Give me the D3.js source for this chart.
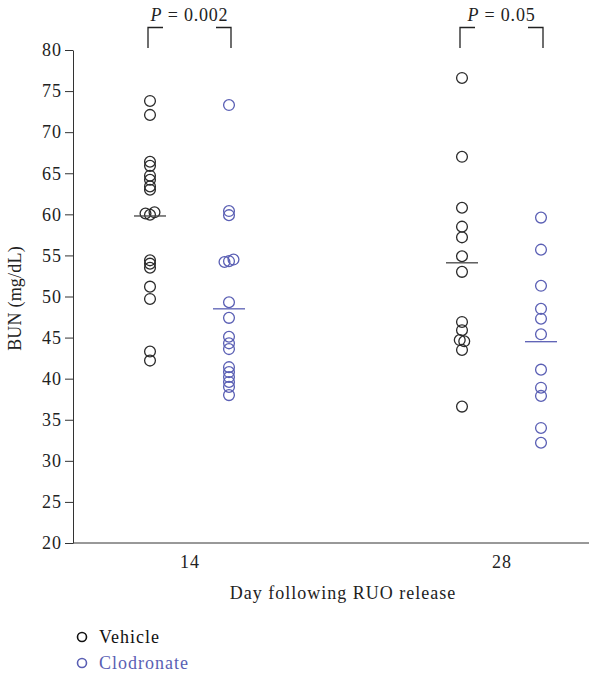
<!DOCTYPE html>
<html>
<head>
<meta charset="utf-8">
<script src="https://cdn.jsdelivr.net/npm/d3@7"></script>
<style>
  body { margin: 0; background: #fff; }
  text { font-family: "Liberation Serif", "DejaVu Serif", serif; }
</style>
</head>
<body>
<svg id="chart" width="592" height="674"></svg>
<script>
// days and groups
const days = ["14", "28"];
const groups = ["Vehicle", "Clodronate"];
const colors = { Vehicle: "#2b2b2b", Clodronate: "#5a5fb4" };

// BUN values (mg/dL)
const vehicle14 = [73.8, 72.1, 66.4, 65.9, 64.7, 64.2, 63.4, 63.0, 60.1, 59.95, 60.25,
  54.4, 54.0, 53.5, 51.2, 49.7, 43.3, 42.2];
const clodronate14 = [73.3, 60.4, 59.9, 54.2, 54.3, 54.5, 49.3, 47.4, 45.1, 44.3, 43.6,
  41.4, 40.8, 40.2, 39.6, 39.0, 38.0];
const vehicle28 = [76.6, 67.0, 60.8, 58.5, 57.2, 54.9, 53.0, 46.9, 45.9, 44.7, 44.55,
  43.5, 36.6];
const clodronate28 = [59.6, 55.7, 51.3, 48.5, 47.3, 45.4, 41.1, 38.9, 37.9, 34.0, 32.2];

// horizontal bars (group means as drawn)
const means = [
  { day: "14", group: "Vehicle", value: 59.8 },
  { day: "14", group: "Clodronate", value: 48.5 },
  { day: "28", group: "Vehicle", value: 54.1 },
  { day: "28", group: "Clodronate", value: 44.5 }
];

const pLabels = [
  { day: "14", text: "0.002" },
  { day: "28", text: "0.05" }
];

const yTicks = d3.range(20, 81, 5);

const series = [
  { day: "14", group: "Vehicle", values: vehicle14 },
  { day: "14", group: "Clodronate", values: clodronate14 },
  { day: "28", group: "Vehicle", values: vehicle28 },
  { day: "28", group: "Clodronate", values: clodronate28 }
];

const margin = { top: 50, right: 3, bottom: 131, left: 73 };
const width = 592 - margin.left - margin.right;
const height = 674 - margin.top - margin.bottom;
const font = "Liberation Serif, serif";

const svg = d3.select("#chart");
const g = svg.append("g").attr("transform", `translate(${margin.left},${margin.top})`);

const y = d3.scaleLinear().domain([20, 80]).range([height, 0]);
const x = d3.scalePoint().domain(days).range([116.5, width - 87.5]);
const xg = d3.scalePoint().domain(groups).range([-39.5, 39.5]);

// y axis
const yAxis = g.append("g")
  .call(d3.axisLeft(y).tickValues(yTicks).tickSize(8).tickPadding(3).tickSizeOuter(0));
yAxis.select(".domain").attr("stroke", "#333");
yAxis.selectAll(".tick line").attr("stroke", "#333");
yAxis.selectAll("text").attr("font-size", 18).attr("fill", "#222")
  .attr("font-family", font).attr("letter-spacing", 1);

// x axis
const xAxis = g.append("g")
  .attr("transform", `translate(0,${height})`)
  .call(d3.axisBottom(x).tickSize(0).tickPadding(12));
xAxis.select(".domain").attr("stroke", "#333").attr("d", `M0,0H${width}`);
xAxis.selectAll("text").attr("font-size", 18).attr("fill", "#222")
  .attr("font-family", font).attr("letter-spacing", 1);

// axis titles
g.append("text")
  .attr("transform", `translate(-52,${height / 2 + 2}) rotate(-90)`)
  .attr("text-anchor", "middle")
  .attr("font-size", 18)
  .attr("letter-spacing", 0.2)
  .attr("fill", "#222")
  .text("BUN (mg/dL)");

g.append("text")
  .attr("x", width / 2 + 12)
  .attr("y", height + 56)
  .attr("text-anchor", "middle")
  .attr("font-size", 18)
  .attr("letter-spacing", 1)
  .attr("fill", "#222")
  .text("Day following RUO release");

// spread near-identical values sideways so they stay visible
function spread(values) {
  const dx = values.map(() => 0);
  const used = values.map(() => false);
  values.forEach((v, i) => {
    if (used[i]) return;
    const cluster = values.map((w, j) => j).filter(j => !used[j] && Math.abs(values[j] - v) < 0.35);
    cluster.forEach((j, k) => {
      used[j] = true;
      dx[j] = (k - (cluster.length - 1) / 2) * 4.5;
    });
  });
  return dx;
}

series.forEach(s => {
  const dx = spread(s.values);
  g.append("g").selectAll("circle")
    .data(s.values)
    .enter()
    .append("circle")
    .attr("cx", (d, i) => x(s.day) + xg(s.group) + dx[i])
    .attr("cy", d => y(d))
    .attr("r", 5.4)
    .attr("fill", "none")
    .attr("stroke", colors[s.group])
    .attr("stroke-width", 1.3);
});

// mean bars
g.selectAll(".mean")
  .data(means)
  .enter()
  .append("line")
  .attr("class", "mean")
  .attr("x1", d => x(d.day) + xg(d.group) - 16)
  .attr("x2", d => x(d.day) + xg(d.group) + 16)
  .attr("y1", d => y(d.value))
  .attr("y2", d => y(d.value))
  .attr("stroke", d => d.group === "Vehicle" ? "#444" : colors.Clodronate)
  .attr("stroke-width", 1.3);

// significance brackets
const br = g.selectAll(".bracket")
  .data(pLabels)
  .enter()
  .append("g")
  .attr("class", "bracket");

br.append("path")
  .attr("d", d => {
    const a = x(d.day) + xg("Vehicle") - 2;
    const b = x(d.day) + xg("Clodronate") + 2;
    return `M${a},-2V-22.5H${a + 15}M${b - 15},-22.5H${b}V-2`;
  })
  .attr("fill", "none")
  .attr("stroke", "#222")
  .attr("stroke-width", 1.3);

const pt = br.append("text")
  .attr("x", d => x(d.day))
  .attr("y", -29)
  .attr("text-anchor", "middle")
  .attr("font-size", 18)
  .attr("letter-spacing", 0.8)
  .attr("fill", "#222");
pt.append("tspan").attr("font-style", "italic").text("P");
pt.append("tspan").text(d => ` = ${d.text}`);

// legend
const legend = svg.append("g").attr("transform", "translate(82,637)");
groups.forEach((grp, i) => {
  const row = legend.append("g").attr("transform", `translate(0,${i * 26})`);
  row.append("circle")
    .attr("r", 4.5)
    .attr("fill", "none")
    .attr("stroke", grp === "Vehicle" ? "#111" : colors.Clodronate)
    .attr("stroke-width", 1.6);
  row.append("text")
    .attr("x", 17)
    .attr("y", 5.5)
    .attr("font-size", 18)
    .attr("letter-spacing", 1)
    .attr("fill", grp === "Vehicle" ? "#111" : colors.Clodronate)
    .text(grp);
});
</script>
</body>
</html>
